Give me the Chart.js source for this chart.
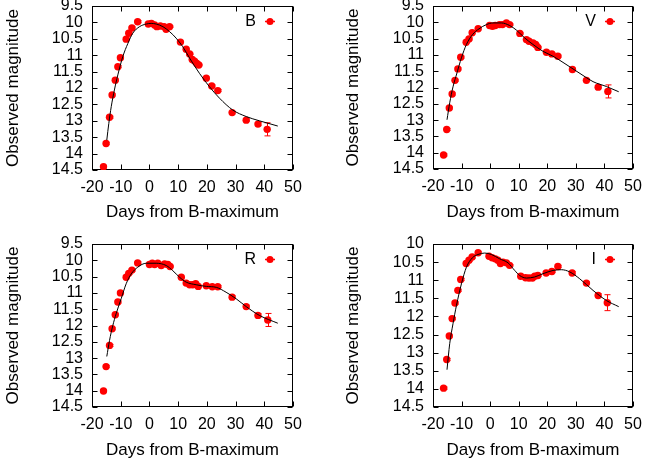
<!DOCTYPE html>
<html><head><meta charset="utf-8">
<script src="https://cdn.jsdelivr.net/npm/chart.js@4"></script>
<style>
html,body{margin:0;padding:0;background:#fff;}
body{width:645px;height:468px;position:relative;overflow:hidden;}
.p{position:absolute;}
canvas{display:block;}
</style></head><body>
<div class="p" style="left:0;top:0"><canvas id="cB" width="320" height="234"></canvas></div>
<div class="p" style="left:320px;top:0"><canvas id="cV" width="325" height="234"></canvas></div>
<div class="p" style="left:0;top:234px"><canvas id="cR" width="320" height="234"></canvas></div>
<div class="p" style="left:320px;top:234px"><canvas id="cI" width="325" height="234"></canvas></div>
<script>
// ---- B band ----
const bDays = [-16.0,-15.1,-13.9,-13.0,-11.9,-11.0,-10.1,-8.1,-7.2,-6.1,-4.1,-0.4,0.7,1.8,2.6,3.8,5.1,5.8,7.0,10.8,12.8,14.0,14.9,15.7,16.5,17.2,19.8,21.7,23.8,28.8,33.7,37.8,41.0];
const bMag  = [14.40,13.69,12.89,12.21,11.76,11.35,11.08,10.51,10.33,10.17,9.98,10.05,10.03,10.08,10.13,10.11,10.13,10.21,10.13,10.60,10.82,10.96,11.13,11.18,11.25,11.30,11.70,11.94,12.08,12.75,12.98,13.10,13.26];
const bErr  = [0.03,0.03,0.03,0.03,0.03,0.03,0.03,0.03,0.03,0.03,0.03,0.02,0.02,0.02,0.02,0.02,0.02,0.02,0.02,0.02,0.02,0.02,0.02,0.02,0.02,0.02,0.03,0.03,0.03,0.04,0.04,0.05,0.20];
const bFitDays = [-14.85,-14.15,-13.3,-12.2,-11.0,-9.3,-7.5,-5.8,-3.45,-1.1,0.6,2.35,4.7,7.0,9.3,11.6,14.0,17.4,20.9,24.4,29.0,33.7,38.3,44.7];
const bFitMag  = [13.59,13.08,12.57,12.06,11.60,11.05,10.64,10.33,10.13,10.05,10.03,10.05,10.13,10.28,10.48,10.74,11.09,11.55,11.96,12.31,12.67,12.87,13.00,13.16];

// ---- V band ----
const vDays = [-16.3,-15.2,-14.3,-13.3,-12.3,-11.3,-10.3,-8.4,-7.4,-6.3,-4.2,-0.2,0.8,1.8,3.3,4.3,5.7,6.8,10.4,12.7,13.6,15.0,15.9,16.7,19.7,21.6,23.7,28.8,33.7,37.8,41.2];
const vMag  = [14.07,13.29,12.63,12.20,11.78,11.43,11.07,10.61,10.51,10.32,10.20,10.10,10.12,10.10,10.07,10.07,10.02,10.07,10.34,10.53,10.58,10.63,10.68,10.77,10.92,10.97,11.04,11.45,11.78,11.99,12.12];
const vErr  = [0.03,0.03,0.03,0.03,0.03,0.03,0.03,0.03,0.03,0.03,0.03,0.02,0.02,0.02,0.02,0.02,0.02,0.02,0.02,0.02,0.02,0.02,0.02,0.02,0.03,0.03,0.03,0.04,0.04,0.05,0.20];
const vFitDays = [-15.1,-14.15,-13.0,-11.6,-10.05,-8.3,-6.2,-3.9,-1.3,1.0,3.95,6.85,9.2,12.1,15.0,18.5,22.0,25.5,29.0,32.5,36.0,40.7,45.0];
const vFitMag  = [12.99,12.47,11.98,11.55,11.09,10.68,10.38,10.20,10.07,10.02,10.02,10.10,10.24,10.48,10.68,10.89,11.04,11.23,11.43,11.63,11.82,11.97,12.13];

// ---- R band ----
const rDays = [-16.0,-15.1,-13.9,-13.0,-11.9,-11.0,-10.1,-8.1,-7.2,-6.1,-4.1,0.0,1.0,1.8,2.9,4.1,5.3,6.4,7.2,11.1,12.8,14.0,15.1,16.1,17.0,19.8,21.9,23.8,28.8,33.7,37.8,41.2];
const rMag  = [14.01,13.26,12.61,12.10,11.67,11.28,11.00,10.52,10.40,10.30,10.08,10.13,10.09,10.13,10.09,10.16,10.11,10.13,10.19,10.52,10.70,10.75,10.75,10.72,10.80,10.78,10.81,10.81,11.13,11.42,11.69,11.83];
const rErr  = [0.03,0.03,0.03,0.03,0.03,0.03,0.03,0.03,0.03,0.03,0.03,0.02,0.02,0.02,0.02,0.02,0.02,0.02,0.02,0.02,0.02,0.02,0.02,0.02,0.02,0.03,0.03,0.03,0.04,0.04,0.05,0.20];
const rFitDays = [-14.85,-13.9,-12.75,-11.6,-9.85,-8.1,-6.35,-4.05,-1.1,2.35,5.85,8.15,10.5,12.8,16.3,19.8,23.3,26.7,30.2,33.7,38.3,44.7];
const rFitMag  = [12.95,12.46,12.00,11.64,11.18,10.72,10.42,10.21,10.09,10.09,10.16,10.32,10.52,10.67,10.75,10.80,10.83,10.98,11.18,11.42,11.69,11.93];

// ---- I band ----
const iDays = [-16.3,-15.2,-14.3,-13.3,-12.3,-11.3,-10.3,-8.4,-7.4,-6.3,-4.2,-0.4,0.7,1.8,2.7,3.6,4.5,5.7,6.8,10.7,12.4,13.6,14.8,15.6,16.7,19.6,21.6,23.7,28.7,33.7,37.8,41.0];
const iMag  = [13.98,13.19,12.54,12.06,11.63,11.28,10.98,10.54,10.45,10.36,10.24,10.34,10.38,10.41,10.45,10.54,10.50,10.52,10.59,10.89,10.93,10.94,10.94,10.89,10.87,10.80,10.76,10.62,10.80,11.08,11.42,11.62];
const iErr  = [0.03,0.03,0.03,0.03,0.03,0.03,0.03,0.03,0.03,0.03,0.03,0.02,0.02,0.02,0.02,0.02,0.02,0.02,0.02,0.02,0.02,0.02,0.02,0.02,0.02,0.03,0.03,0.03,0.04,0.04,0.05,0.22];
const iFitDays = [-15.1,-14.15,-13.0,-11.8,-10.05,-8.3,-6.2,-4.25,-1.9,0.45,3.35,6.25,8.6,10.35,12.7,15.6,18.5,22.0,24.95,27.85,31.35,36.0,40.7,45.0];
const iFitMag  = [13.47,12.75,12.20,11.70,11.10,10.64,10.38,10.29,10.25,10.29,10.41,10.52,10.73,10.87,10.94,10.91,10.82,10.73,10.71,10.77,10.96,11.28,11.56,11.73];

// ---- axes ----
const dayTicks = [-20,-10,0,10,20,30,40,50];
const xLabel = 'Days from B-maximum';
const yLabel = 'Observed magnitude';

Chart.defaults.font.family = "'Liberation Sans', Arial, Helvetica, sans-serif";
Chart.defaults.color = '#000';

function pts(xs, ys){ return xs.map((x,i)=>({x:x, y:ys[i]})); }

const framePlugin = {
  id:'frame',
  beforeDatasetsDraw(chart, args, o){
    const {ctx, chartArea:a, scales:{x, y}} = chart;
    ctx.save();
    // error bars
    const ds = chart.data.datasets[1].data;
    ctx.strokeStyle = '#f00'; ctx.lineWidth = 1;
    ds.forEach((p,i)=>{
      const e = o.err[i];
      const px = Math.round(x.getPixelForValue(p.x)) + 0.5;
      const y1 = y.getPixelForValue(p.y - e), y2 = y.getPixelForValue(p.y + e);
      ctx.beginPath();
      ctx.moveTo(px, y1); ctx.lineTo(px, y2);
      ctx.moveTo(px-3, y1); ctx.lineTo(px+3, y1);
      ctx.moveTo(px-3, y2); ctx.lineTo(px+3, y2);
      ctx.stroke();
    });
    // frame
    ctx.strokeStyle = '#000'; ctx.lineWidth = 1;
    const L = Math.round(a.left)+0.5, R = Math.round(a.right)-0.5, T = Math.round(a.top)+0.5, B = Math.round(a.bottom)-0.5;
    ctx.strokeRect(L, T, R-L, B-T);
    ctx.beginPath();
    x.ticks.forEach(t=>{
      const px = Math.round(x.getPixelForValue(t.value))+0.5;
      ctx.moveTo(px, B); ctx.lineTo(px, B-5);
      ctx.moveTo(px, T); ctx.lineTo(px, T+5);
    });
    y.ticks.forEach(t=>{
      const py = Math.round(y.getPixelForValue(t.value))+0.5;
      ctx.moveTo(L, py); ctx.lineTo(L+5, py);
      ctx.moveTo(R, py); ctx.lineTo(R-5, py);
    });
    ctx.stroke();
    ctx.restore();
  },
  afterDatasetsDraw(chart, args, o){
    const {ctx, chartArea:a} = chart;
    ctx.save();
    const ty = a.top + 15.5;
    ctx.font = "16px 'Liberation Sans', Arial, sans-serif";
    ctx.fillStyle = '#000'; ctx.textAlign = 'right'; ctx.textBaseline = 'middle';
    ctx.fillText(o.label, a.right - 37, ty);
    const sx = a.right - 23;
    ctx.strokeStyle = '#f00'; ctx.lineWidth = 1.5;
    ctx.beginPath(); ctx.moveTo(sx-5, ty); ctx.lineTo(sx+5, ty); ctx.stroke();
    ctx.fillStyle = '#f00';
    ctx.beginPath(); ctx.arc(sx, ty, 3.5, 0, Math.PI*2); ctx.fill();
    ctx.restore();
  }
};

function makeChart(id, c){
  return new Chart(document.getElementById(id), {
    type:'scatter',
    data:{datasets:[
      {data: pts(c.fitDays, c.fitMag), showLine:true, borderColor:'#000', borderWidth:1, pointRadius:0, cubicInterpolationMode:'monotone', fill:false, order:0},
      {data: pts(c.days, c.mag), backgroundColor:'#f00', borderColor:'#f00', pointRadius:3.7, borderWidth:0, order:1}
    ]},
    options:{
      responsive:false, animation:false, devicePixelRatio:1,
      layout:{padding:{left:0, right:c.padR, top:c.padT, bottom:0}, autoPadding:false},
      plugins:{legend:{display:false}, tooltip:{enabled:false}, frame:{label:c.label, err:c.err}},
      scales:{
        x:{type:'linear', min:-20, max:50,
           afterBuildTicks(s){ s.ticks = dayTicks.map(v=>({value:v})); },
           ticks:{font:{size:16}, color:'#000', padding:8, maxRotation:0, autoSkip:false, callback:(v)=>String(v)},
           grid:{display:false, drawTicks:false}, border:{display:false},
           title:{display:true, text:xLabel, font:{size:17}, color:'#000', padding:{top:0, bottom:c.xTitlePad}},
           afterFit(s){ s.height = c.xH; s.paddingLeft = 0; s.paddingRight = 0; }},
        y:{type:'linear', reverse:true, min:c.yMin, max:14.5,
           ticks:{stepSize:0.5, font:{size:16}, color:'#000', padding:9, autoSkip:false, callback:(v)=>String(Math.round(v*10)/10)},
           grid:{display:false, drawTicks:false}, border:{display:false},
           title:{display:true, text:yLabel, font:{size:17}, color:'#000', padding:{top:c.yTitlePad, bottom:0}},
           afterFit(s){ s.width = c.yW; s.paddingTop = 0; s.paddingBottom = 0; }}
      }
    },
    plugins:[framePlugin]
  });
}

makeChart('cB', {label:'B', days:bDays, mag:bMag, err:bErr, fitDays:bFitDays, fitMag:bFitMag, yMin:9.5,
  padR:27, padT:6, yW:92, xH:64, xTitlePad:11, yTitlePad:3});
makeChart('cV', {label:'V', days:vDays, mag:vMag, err:vErr, fitDays:vFitDays, fitMag:vFitMag, yMin:9.5,
  padR:12, padT:6, yW:113, xH:65, xTitlePad:11, yTitlePad:23});
makeChart('cR', {label:'R', days:rDays, mag:rMag, err:rErr, fitDays:rFitDays, fitMag:rFitMag, yMin:9.5,
  padR:27, padT:10, yW:92, xH:61, xTitlePad:7, yTitlePad:3});
makeChart('cI', {label:'I', days:iDays, mag:iMag, err:iErr, fitDays:iFitDays, fitMag:iFitMag, yMin:10,
  padR:12, padT:10, yW:113, xH:61, xTitlePad:7, yTitlePad:23});
</script>
</body></html>
